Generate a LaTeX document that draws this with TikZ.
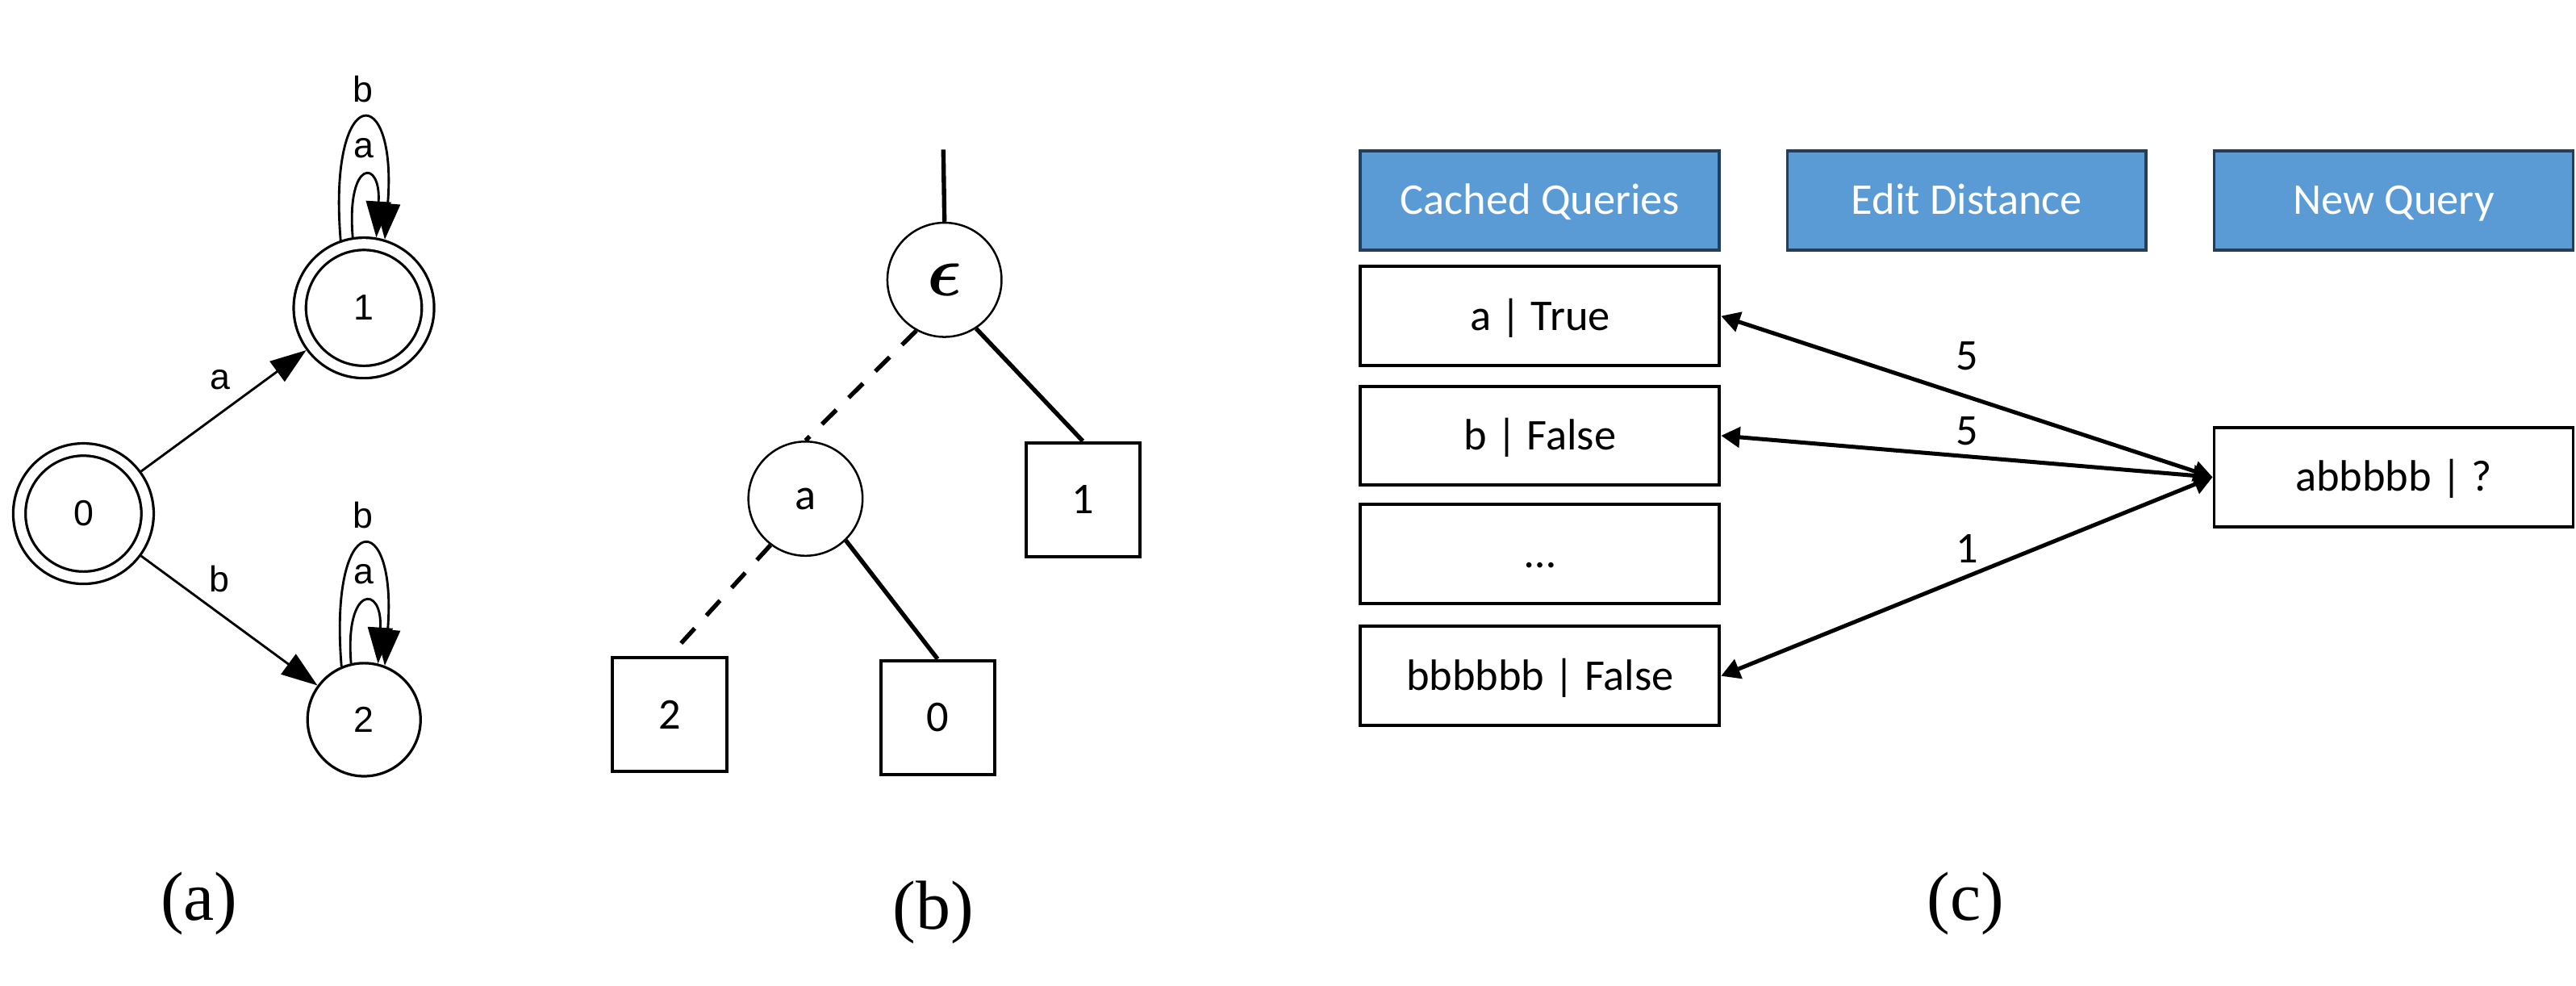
\documentclass[tikz,border=0pt]{standalone}
\usepackage{amsmath}
\usepackage{fontspec}
\newfontfamily\calfont{Carlito}
\newfontfamily\arialfont{Liberation Sans}
\newfontfamily\timesfont{Liberation Serif}
\usetikzlibrary{arrows.meta}
\definecolor{hdrfill}{HTML}{5B9BD5}
\definecolor{hdrline}{HTML}{233E5A}
\begin{document}
\begin{tikzpicture}[x=0.2mm,y=-0.2mm,
  afont/.style={font=\arialfont\fontsize{12.5}{15}\selectfont},
  cfont/.style={font=\calfont\fontsize{15.2}{18}\selectfont},
  acc/.style={circle, draw, line width=0.9pt, double, double distance=3.35pt, minimum size=15.6mm, inner sep=0pt, outer sep=2.575pt, afont},
  stt/.style={circle, draw, line width=0.9pt, minimum size=13.76mm, inner sep=0pt, afont},
  aarrow/.style={line width=0.8pt, -{Triangle[length=12.5pt,width=8.6pt]}},
  tcirc/.style={circle, draw, line width=0.7pt, minimum size=13.9mm, inner sep=0pt, cfont},
  tbox/.style={rectangle, draw, line width=1.1pt, minimum size=13.87mm, inner sep=0pt, cfont},
  tline/.style={line width=1.5pt},
  tdash/.style={line width=1.5pt, dash pattern=on 7pt off 6pt},
  hdr/.style={rectangle, draw=hdrline, fill=hdrfill, line width=1.1pt, minimum width=43.7mm, minimum height=12.05mm, text=white, cfont, text height=9.7pt, text depth=0pt},
  row/.style={rectangle, draw, line width=1.1pt, minimum width=43.7mm, minimum height=12.05mm, cfont, text height=9.7pt, text depth=0pt},
  carrow/.style={line width=1.4pt, {Triangle[length=6.5pt,width=7pt]}-{Triangle[length=6.5pt,width=7pt]}},
  captext/.style={font=\timesfont\fontsize{24}{28}\selectfont}
]
\useasboundingbox (0,0) rectangle (1568,600);

% ---------------- (a) ----------------
\node[acc] (n0) at (50.8,312.6) {0};
\node[acc] (n1) at (221.5,187.4) {1};
\node[stt] (n2) at (221.6,438) {2};

\draw[aarrow] (n0) -- node[midway, afont, xshift=-0.44mm, yshift=3.74mm] {a} (n1);
\draw[aarrow] (n0) -- node[midway, afont, xshift=-1.2mm, yshift=5.1mm] {b} (n2);

\draw[aarrow] (n1.109) .. controls +(-8,-97) and +(8,-97) .. node[midway, above=2.5pt, afont] {b} (n1.73);
\draw[aarrow] (n1.99) .. controls +(-4,-48) and +(3,-48) .. node[midway, above=3.3pt, afont] {a} (n1.80);
\draw[aarrow] (n2.113) .. controls +(-8,-97) and +(8,-97) .. node[midway, above=2.5pt, afont] {b} (n2.69);
\draw[aarrow] (n2.103) .. controls +(-4,-48) and +(3,-48) .. node[midway, above=3.3pt, afont] {a} (n2.76);

\node[captext] (capa) at (121.2,550) {(a)};

% ---------------- (b) ----------------
\coordinate (root) at (574.2,91);
\node[tcirc, font=\fontsize{23}{27}\selectfont] (eps) at (574.9,170.3) {$\boldsymbol{\epsilon}$};
\node[tcirc] (na) at (490.3,303.5) {a};
\node[tbox] (b1) at (659.1,304.1) {1};
\node[tbox] (b0) at (570.7,436.7) {0};
\node[tbox] (b2) at (407.6,434.8) {2};

\draw[tline] (root) -- (eps.north);
\draw[tline] (eps.303) -- (b1.north);
\draw[tdash] (eps.241) -- (na.north);
\draw[tline] (na.314) -- (b0.north);
\draw[tdash] (na.233) -- (b2.north);

\node[captext] (capb) at (568.2,555.5) {(b)};

% ---------------- (c) ----------------
\node[hdr] (h1) at (937.4,121.9) {Cached Queries};
\node[hdr] (h2) at (1197.2,121.9) {Edit Distance};
\node[hdr] (h3) at (1457,121.9) {New Query};

\node[row] (r1) at (937.4,192.35) {a | True};
\node[row] (r2) at (937.4,265.15) {b | False};
\node[row] (r3) at (937.4,337.0) {…};
\node[row] (r4) at (937.4,411.4) {bbbbbb | False};
\node[row] (q) at (1457,290.4) {abbbbb | ?};

\draw[carrow] (r1.east) -- node[midway, cfont, yshift=14.06pt] {5} (q.west);
\draw[carrow] (r2.east) -- node[midway, cfont, yshift=8.9pt] {5} (q.west);
\draw[carrow] (r4.east) -- node[midway, cfont, yshift=9.64pt] {1} (q.west);

\node[captext] (capc) at (1196.4,550) {(c)};
\end{tikzpicture}
\end{document}
